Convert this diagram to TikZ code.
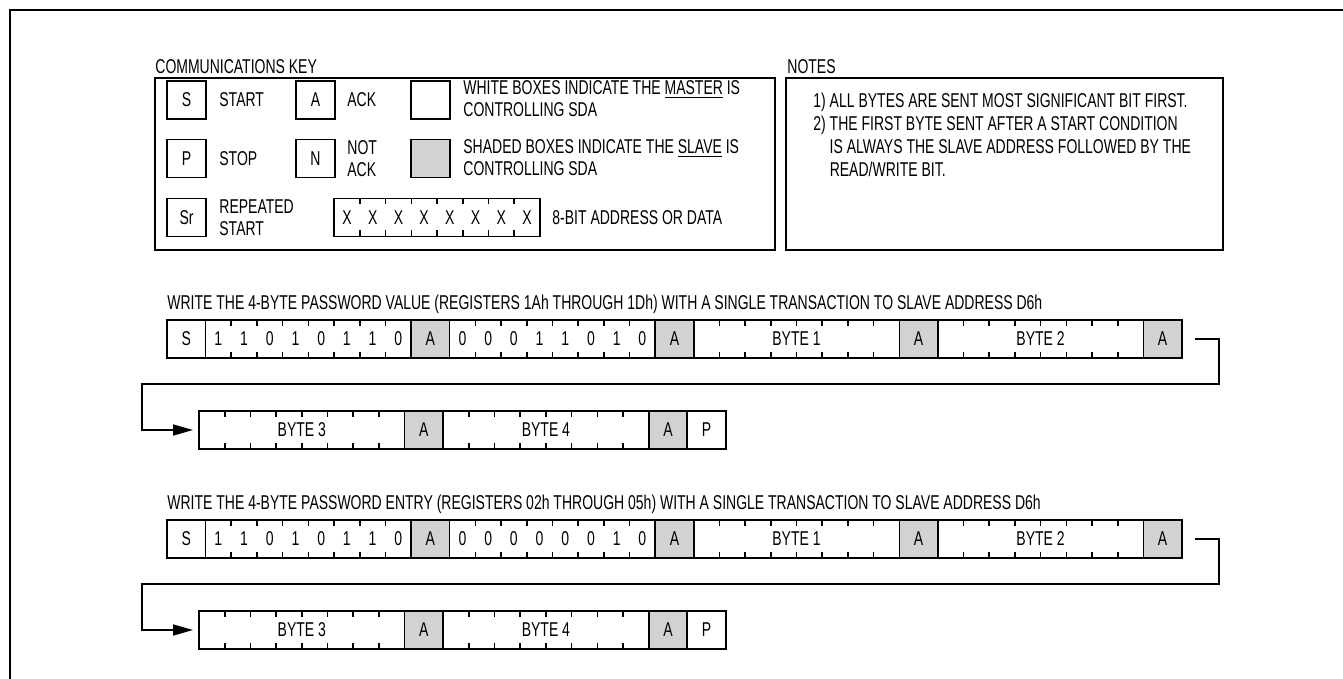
\documentclass[tikz,border=0pt]{standalone}
\usepackage{fontspec}
\setmainfont{Liberation Sans}[FakeStretch=0.7]
\usetikzlibrary{arrows.meta,positioning,calc}
\definecolor{slavegray}{HTML}{D1D2D4}
\newcommand{\byteticks}[1]{%
  \foreach \k in {1,...,7}{%
    \draw[bittick] ($(#1.north west)!\k/8!(#1.north east)$) -- ++(0,6);
    \draw[bittick] ($(#1.south west)!\k/8!(#1.south east)$) -- ++(0,-6);}}
\newcommand{\bytebits}[2]{%
  \foreach \b [count=\k] in {#2}
    \node at ($(#1.west)!{(\k-0.5)/8}!(#1.east)$) {\b};}
% one write transaction: #1 tag, #2 y shift, #3 title, #4 register byte
\newcommand{\transfer}[4]{%
  \node[keytext, anchor=base west] (ttl#1) at (167,309+#2) {#3};
  \node[ctl] (s#1) at (186.25,339+#2) {S};
  \node[byte, right=0pt of s#1] (dev#1) {};
  \node[ack, right=0pt of dev#1] (ad#1) {A};
  \node[byte, right=0pt of ad#1] (reg#1) {};
  \node[ack, right=0pt of reg#1] (ar#1) {A};
  \node[byte, right=0pt of ar#1] (bya#1) {BYTE 1};
  \node[ack, right=0pt of bya#1] (aa#1) {A};
  \node[byte, right=0pt of aa#1] (byb#1) {BYTE 2};
  \node[ack, right=0pt of byb#1] (ab#1) {A};
  \node[byte, anchor=west] (byc#1) at (199,430+#2) {BYTE 3};
  \node[ack, right=0pt of byc#1] (ac#1) {A};
  \node[byte, right=0pt of ac#1] (byd#1) {BYTE 4};
  \node[ack, right=0pt of byd#1] (ae#1) {A};
  \node[ctl, right=0pt of ae#1] (p#1) {P};
  \bytebits{dev#1}{1,1,0,1,0,1,1,0}
  \bytebits{reg#1}{#4}
  \foreach \n in {dev,reg,bya,byb,byc,byd}{\byteticks{\n#1}}
  \coordinate (out#1) at ($(ab#1.east)+(13,0)$);
  \draw[link] (out#1) -| ($(out#1)+(24,45)$) -| ($(byc#1.west)+(-57,0)$) -- (byc#1.west);}
\begin{document}
\begin{tikzpicture}[x=0.5pt, y=-0.5pt,
  font=\fontsize{10}{11}\selectfont,
  cell/.style={draw, line width=0.8pt, inner sep=0pt, outer sep=0pt, minimum height=19pt},
  ctl/.style={cell, minimum width=19.25pt},
  ack/.style={ctl, fill=slavegray},
  byte/.style={cell, minimum width=102.8pt},
  bittick/.style={line width=0.8pt},
  panel/.style={draw, line width=1pt, inner sep=0pt, outer sep=0pt, anchor=north west},
  keytext/.style={anchor=west, inner sep=0pt, align=left},
  link/.style={line width=0.8pt, -{Triangle[length=10pt, width=5.5pt]}, shorten >=3pt}]
\useasboundingbox (0,0) rectangle (1343,679);
\draw[line width=1pt] (10,679) -- (10,10) -- (1343,10);
% communications key
\node[keytext, anchor=base west] (keyttl) at (155,74) {COMMUNICATIONS KEY};
\node[panel, minimum width=310pt, minimum height=86pt] (key) at (155,78) {};
\node[ctl] (ks) at (186.5,100) {S};
\node[keytext] (kstxt) at (219,100) {START};
\node[ctl] (ka) at (315.5,100) {A};
\node[keytext] (katxt) at (347,100) {ACK};
\node[ctl] (kw) at (430.5,100) {};
\node[keytext] (kwtxt) at (463,99) {WHITE BOXES INDICATE THE \underline{MASTER} IS\\CONTROLLING SDA};
\node[ctl] (kp) at (186.5,158.5) {P};
\node[keytext] (kptxt) at (219,158.5) {STOP};
\node[ctl] (kn) at (315.5,158.5) {N};
\node[keytext] (kntxt) at (347,158.5) {NOT\\ACK};
\node[ack] (kg) at (430.5,158.5) {};
\node[keytext] (kgtxt) at (463,157.5) {SHADED BOXES INDICATE THE \underline{SLAVE} IS\\CONTROLLING SDA};
\node[ctl] (ksr) at (186.5,217.5) {Sr};
\node[keytext] (ksrtxt) at (219,217.5) {REPEATED\\START};
\node[byte] (kx) at (437,217.5) {};
\bytebits{kx}{X,X,X,X,X,X,X,X}
\byteticks{kx}
\node[keytext] (kxtxt) at (552,217.5) {8-BIT ADDRESS OR DATA};
% notes
\node[keytext, anchor=base west] (notettl) at (787,74) {NOTES};
\node[panel, minimum width=218.5pt, minimum height=86pt] (notes) at (786,78) {};
\node[keytext, anchor=north west, font=\fontsize{10}{11.5}\selectfont] (notetxt) at (813,93)
  {1)\ ALL BYTES ARE SENT MOST SIGNIFICANT BIT FIRST.\\
   2)\ THE FIRST BYTE SENT AFTER A START CONDITION\\
   \phantom{2)}\ IS ALWAYS THE SLAVE ADDRESS FOLLOWED BY THE\\
   \phantom{2)}\ READ/WRITE BIT.};
% the two write transactions
\transfer{v}{0}{WRITE THE 4-BYTE PASSWORD VALUE (REGISTERS 1Ah THROUGH 1Dh) WITH A SINGLE TRANSACTION TO SLAVE ADDRESS D6h}{0,0,0,1,1,0,1,0}
\transfer{e}{200}{WRITE THE 4-BYTE PASSWORD ENTRY (REGISTERS 02h THROUGH 05h) WITH A SINGLE TRANSACTION TO SLAVE ADDRESS D6h}{0,0,0,0,0,0,1,0}
\end{tikzpicture}
\end{document}
